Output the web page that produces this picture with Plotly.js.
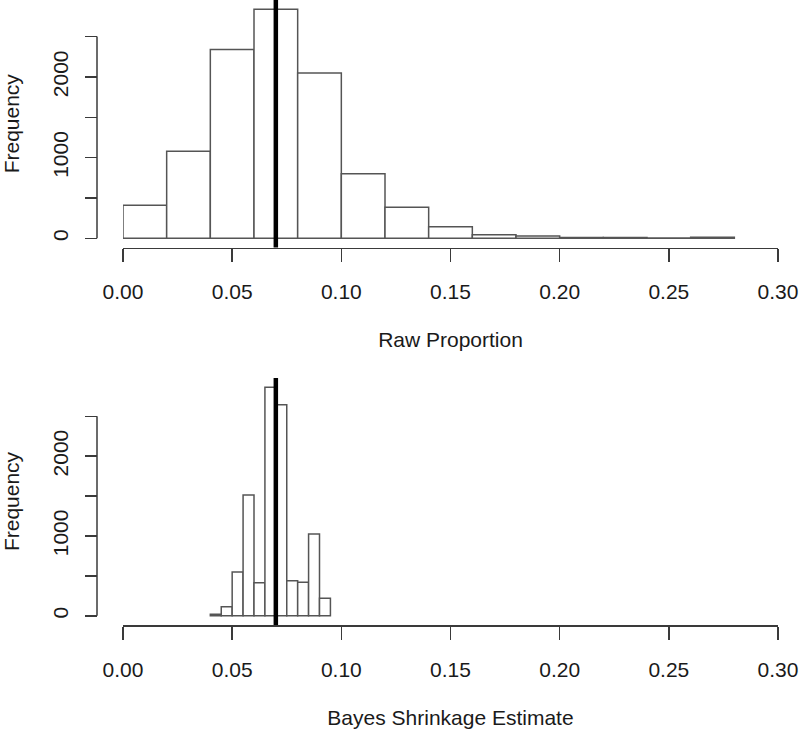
<!DOCTYPE html>
<html>
<head>
<meta charset="utf-8">
<script src="https://cdn.plot.ly/plotly-3.0.1.min.js"></script>
<style>html,body{margin:0;padding:0;background:#fff;}#chart{width:800px;height:732px;}</style>
</head>
<body>
<div id="chart"></div>
<script>
// ---- data ----
const rawBinEdges = [0.00, 0.02, 0.04, 0.06, 0.08, 0.10, 0.12, 0.14, 0.16, 0.18, 0.20, 0.22, 0.24, 0.26, 0.28];
const rawCounts   = [410, 1080, 2340, 2840, 2050, 800, 385, 145, 45, 30, 10, 10, 3, 12];

const bayesBinEdges = [0.040, 0.045, 0.050, 0.055, 0.060, 0.065, 0.070, 0.075, 0.080, 0.085, 0.090, 0.095];
const bayesCounts   = [20, 115, 550, 1515, 415, 2865, 2645, 440, 420, 1025, 220];

const overallMean = 0.07;

const xTickVals  = [0.00, 0.05, 0.10, 0.15, 0.20, 0.25, 0.30];
const xTickText  = ['0.00', '0.05', '0.10', '0.15', '0.20', '0.25', '0.30'];
const yTickVals  = [0, 500, 1000, 1500, 2000, 2500];
const yTickText  = ['0', '', '1000', '', '2000', ''];

const rawTitle   = 'Raw Proportion';
const bayesTitle = 'Bayes Shrinkage Estimate';
const yTitle     = 'Frequency';

// ---- helpers ----
function centers(edges){ const c=[]; for(let i=0;i<edges.length-1;i++) c.push((edges[i]+edges[i+1])/2); return c; }
function widths(edges){ const w=[]; for(let i=0;i<edges.length-1;i++) w.push(edges[i+1]-edges[i]); return w; }
function rRange(counts){ const m=Math.max(...counts); return [-0.04*m, 1.04*m]; }

const H = 732;
const barLine = {color:'#555555', width:1.5};
const axisCol = '#3a3a3a';
const fontFam = 'Liberation Sans, Arial, Helvetica, sans-serif';

const traces = [
  {type:'bar', x:centers(rawBinEdges), y:rawCounts, width:widths(rawBinEdges),
   marker:{color:'#ffffff', line:barLine}, xaxis:'x', yaxis:'y', hoverinfo:'x+y'},
  {type:'bar', x:centers(bayesBinEdges), y:bayesCounts, width:widths(bayesBinEdges),
   marker:{color:'#ffffff', line:barLine}, xaxis:'x2', yaxis:'y2', hoverinfo:'x+y'}
];

// plot regions (px from top)
const topDom = [1 - 247.5/H, 1];
const botDom = [1 - 625/H, 1 - 378/H];
const xDom = [(123-97)/(800-97-22), 1];

function xAxis(anchor, title){
  return {domain:xDom, range:[xTickVals[0], xTickVals[xTickVals.length-1]], anchor:anchor,
    showline:true, linecolor:axisCol, linewidth:1.5, ticks:'outside', ticklen:13, tickwidth:1.5, tickcolor:axisCol,
    tickmode:'array', tickvals:xTickVals, ticktext:xTickText, ticklabelstandoff:12,
    showgrid:false, zeroline:false, fixedrange:true,
    title:{text:title, standoff:30, font:{size:21}}};
}
function yAxis(dom, counts){
  return {domain:dom, range:rRange(counts), anchor:'free', position:0,
    showline:false, ticks:'outside', ticklen:12, tickwidth:1.5, tickcolor:axisCol,
    tickmode:'array', tickvals:yTickVals, ticktext:yTickText, tickangle:-90, ticklabelstandoff:9,
    showgrid:false, zeroline:false, fixedrange:true,
    title:{text:yTitle, standoff:40, font:{size:21}}};
}

const shapes = [];
[['y','x'],['y2','x2']].forEach(([ya, xa]) => {
  // y axis line only across tick range (R style)
  shapes.push({type:'line', xref:'paper', yref:ya, x0:0, x1:0, y0:yTickVals[0], y1:yTickVals[yTickVals.length-1],
    line:{color:axisCol, width:1.5}});
  // mean line
  shapes.push({type:'line', xref:xa, yref:ya+' domain', x0:overallMean, x1:overallMean, y0:0, y1:1,
    line:{color:'#000000', width:4.5}});
});

const layout = {
  width:800, height:732,
  margin:{l:97, r:22, t:0, b:0},
  paper_bgcolor:'#ffffff', plot_bgcolor:'#ffffff',
  showlegend:false, bargap:0,
  font:{family:fontFam, size:21, color:'#1a1a1a'},
  xaxis:xAxis('y', rawTitle),
  yaxis:yAxis(topDom, rawCounts),
  xaxis2:xAxis('y2', bayesTitle),
  yaxis2:yAxis(botDom, bayesCounts),
  shapes:shapes
};

Plotly.newPlot('chart', traces, layout, {displayModeBar:false, staticPlot:true});
</script>
</body>
</html>
